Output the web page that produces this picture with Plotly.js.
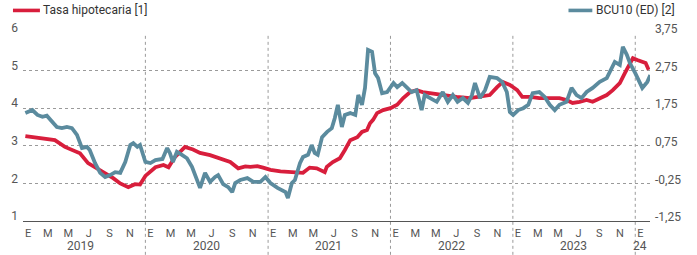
<!DOCTYPE html>
<html><head><meta charset="utf-8">
<script src="https://cdn.plot.ly/plotly-3.0.1.min.js"></script>
<style>html,body{margin:0;padding:0;background:#fff;}#chart{width:697px;height:255px;}</style>
</head><body><div id="chart"></div>
<script>
// Tasa hipotecaria [1] (left axis, %)
const tasaDates = ['2019-01-08','2019-02-05','2019-03-07','2019-04-06','2019-05-06','2019-06-20','2019-07-14','2019-08-10','2019-09-03','2019-09-27','2019-10-18','2019-11-11','2019-12-01','2019-12-16','2020-01-01','2020-01-16','2020-01-31','2020-02-24','2020-03-10','2020-03-29','2020-04-28','2020-05-22','2020-06-12','2020-07-12','2020-08-11','2020-09-10','2020-10-04','2020-10-25','2020-11-09','2020-11-30','2020-12-17','2021-01-08','2021-02-07','2021-03-16','2021-04-15','2021-05-05','2021-05-26','2021-06-19','2021-06-25','2021-07-13','2021-08-03','2021-08-18','2021-09-03','2021-09-24','2021-10-08','2021-10-23','2021-11-01','2021-11-10','2021-11-22','2021-12-10','2022-01-01','2022-01-21','2022-02-08','2022-03-01','2022-03-20','2022-04-07','2022-04-28','2022-06-06','2022-07-17','2022-08-26','2022-09-25','2022-10-24','2022-11-15','2022-12-02','2022-12-23','2023-01-14','2023-01-29','2023-02-22','2023-03-21','2023-04-21','2023-05-20','2023-06-10','2023-06-28','2023-07-19','2023-08-09','2023-08-27','2023-09-17','2023-10-08','2023-10-26','2023-11-16','2023-12-01','2023-12-16','2023-12-25','2024-01-07','2024-01-22','2024-02-01','2024-02-10'];
const tasaValues = [3.26,3.22,3.2,3.15,2.97,2.8,2.54,2.4,2.28,2.14,2.0,1.9,1.98,1.97,2.2,2.3,2.43,2.49,2.43,2.7,2.97,2.9,2.81,2.75,2.67,2.57,2.4,2.45,2.44,2.46,2.42,2.36,2.32,2.3,2.28,2.42,2.4,2.3,2.44,2.57,2.67,2.89,3.15,3.23,3.37,3.42,3.6,3.69,3.87,3.95,4.0,4.09,4.27,4.43,4.48,4.43,4.4,4.35,4.3,4.27,4.3,4.35,4.56,4.7,4.62,4.48,4.3,4.3,4.27,4.27,4.27,4.22,4.14,4.17,4.22,4.17,4.27,4.35,4.48,4.67,4.93,5.2,5.33,5.28,5.23,5.2,5.02];

// BCU10 (ED) [2] (right axis)
const bcuDates = ['2019-01-08','2019-01-29','2019-02-13','2019-02-28','2019-03-13','2019-03-28','2019-04-12','2019-04-27','2019-05-12','2019-05-27','2019-06-11','2019-06-26','2019-07-11','2019-07-19','2019-08-04','2019-08-19','2019-09-03','2019-09-18','2019-10-03','2019-10-18','2019-11-02','2019-11-17','2019-11-26','2019-12-08','2019-12-16','2020-01-01','2020-01-16','2020-01-31','2020-02-21','2020-03-06','2020-03-14','2020-03-23','2020-04-04','2020-04-19','2020-05-04','2020-05-19','2020-06-03','2020-06-12','2020-06-27','2020-07-12','2020-07-27','2020-08-05','2020-08-20','2020-09-04','2020-09-16','2020-09-25','2020-10-10','2020-10-31','2020-11-18','2020-12-09','2020-12-24','2021-01-08','2021-01-29','2021-02-13','2021-02-22','2021-03-01','2021-03-13','2021-03-22','2021-04-06','2021-04-15','2021-04-30','2021-05-11','2021-05-20','2021-05-29','2021-06-11','2021-06-26','2021-07-10','2021-07-19','2021-07-28','2021-08-09','2021-08-18','2021-09-03','2021-09-18','2021-09-27','2021-10-08','2021-10-17','2021-10-26','2021-11-07','2021-11-16','2021-11-25','2021-12-07','2021-12-22','2022-01-10','2022-01-21','2022-02-05','2022-02-20','2022-03-05','2022-03-20','2022-04-04','2022-04-13','2022-04-28','2022-05-19','2022-06-06','2022-06-21','2022-07-06','2022-07-20','2022-08-05','2022-08-20','2022-09-01','2022-09-10','2022-09-25','2022-10-10','2022-10-24','2022-11-15','2022-11-30','2022-12-14','2022-12-23','2023-01-02','2023-01-17','2023-02-01','2023-02-16','2023-03-01','2023-03-21','2023-04-06','2023-04-21','2023-05-06','2023-05-20','2023-06-10','2023-06-25','2023-07-10','2023-07-25','2023-08-09','2023-08-27','2023-09-17','2023-10-08','2023-10-23','2023-11-01','2023-11-16','2023-11-25','2023-12-07','2023-12-16','2024-01-01','2024-01-22','2024-02-06','2024-02-15'];
const bcuValues = [1.62,1.70,1.57,1.52,1.55,1.38,1.25,1.22,1.25,1.22,1.04,0.69,0.72,0.64,0.29,0.03,-0.08,-0.03,0.05,0.03,0.32,0.77,0.82,0.72,0.77,0.32,0.29,0.37,0.40,0.69,0.56,0.32,0.59,0.51,0.42,0.19,-0.16,-0.37,0.03,-0.21,-0.08,-0.03,-0.27,-0.35,-0.48,-0.24,-0.16,-0.11,-0.21,-0.21,-0.08,-0.24,-0.37,-0.43,-0.48,-0.64,-0.24,-0.16,0.29,0.45,0.51,0.77,0.56,0.51,0.98,1.12,1.22,1.49,1.84,1.25,1.57,1.62,1.57,2.10,1.84,2.29,3.30,3.25,2.68,2.55,2.15,2.18,2.42,2.31,2.42,2.29,2.18,2.23,1.70,2.10,2.02,1.92,2.18,1.92,2.10,1.92,2.02,1.89,2.10,2.42,2.02,2.23,2.58,2.55,2.45,2.18,1.65,1.57,1.70,1.75,1.84,2.15,2.18,2.05,1.84,1.70,1.84,1.92,2.29,2.10,2.02,2.18,2.29,2.45,2.55,2.82,2.98,2.90,3.38,3.17,2.95,2.68,2.29,2.45,2.63];

// Axis labels
const leftTicks = [1,2,3,4,5,6];
const rightTicks = [-1.25,-0.25,0.75,1.75,2.75,3.75];
const rightTickText = ['-1,25','-0,25','0,75','1,75','2,75','3,75'];
const monthTickDates = ['2019-01-16','2019-03-16','2019-05-16','2019-07-16','2019-09-16','2019-11-16','2020-01-16','2020-03-16','2020-05-16','2020-07-16','2020-09-16','2020-11-16','2021-01-16','2021-03-16','2021-05-16','2021-07-16','2021-09-16','2021-11-16','2022-01-16','2022-03-16','2022-05-16','2022-07-16','2022-09-16','2022-11-16','2023-01-16','2023-03-16','2023-05-16','2023-07-16','2023-09-16','2023-11-16','2024-01-16'];
const monthTickText = ['E','M','M','J','S','N','E','M','M','J','S','N','E','M','M','J','S','N','E','M','M','J','S','N','E','M','M','J','S','N','E'];
const yearLabels = ['2019','2020','2021','2022','2023','24'];
const yearLabelDates = ['2019-06-20','2020-07-01','2021-07-01','2022-07-01','2023-07-01','2024-01-16'];
const yearBoundaries = ['2020-01-01','2021-01-01','2022-01-01','2023-01-01','2024-01-01'];

const RED = '#d81e3c', BLUE = '#5b8b9e', TXT = '#555555', GRID = '#9a9a9a';
const FONT = 'Roboto, "Open Sans", sans-serif';

const traces = [
  {x: tasaDates, y: tasaValues, type: 'scatter', mode: 'lines', name: 'Tasa hipotecaria [1]',
   line: {color: RED, width: 3.8}, yaxis: 'y'},
  {x: bcuDates, y: bcuValues, type: 'scatter', mode: 'lines', name: 'BCU10 (ED) [2]',
   line: {color: BLUE, width: 3.8}, yaxis: 'y2'}
];

const shapes = yearBoundaries.map(d => ({
  type: 'line', xref: 'x', yref: 'paper', x0: d, x1: d, y0: -0.18, y1: 1,
  line: {color: GRID, width: 1, dash: 'dot'}, layer: 'below'
}));
// legend swatches
shapes.push({type:'line', xref:'paper', yref:'paper', x0:-0.016, x1:0.027, y0:1.12, y1:1.12, line:{color:RED, width:3.6}});
shapes.push({type:'line', xref:'paper', yref:'paper', x0:0.87, x1:0.908, y0:1.12, y1:1.12, line:{color:BLUE, width:3.6}});

const annotations = yearLabels.map((t, i) => ({
  text: t, x: yearLabelDates[i], xref: 'x', y: -0.135, yref: 'paper',
  yanchor: 'middle', xanchor: 'center', showarrow: false, borderpad: 0,
  font: {family: FONT, size: 12, color: TXT}
}));
annotations.push({text:'Tasa hipotecaria [1]', xref:'paper', yref:'paper', x:0.029, y:1.12, xanchor:'left', yanchor:'middle', showarrow:false, font:{family:FONT, size:12, color:'#333'}});
annotations.push({text:'BCU10 (ED) [2]', xref:'paper', yref:'paper', x:0.911, y:1.12, xanchor:'left', yanchor:'middle', showarrow:false, font:{family:FONT, size:12, color:'#333'}});

const layout = {
  width: 697, height: 255,
  margin: {l: 23, r: 47, t: 33, b: 34},
  paper_bgcolor: '#fff', plot_bgcolor: '#fff',
  showlegend: false,
  separators: ',.',
  font: {family: FONT, size: 12, color: TXT},
  xaxis: {
    type: 'date', range: ['2019-01-01', '2024-02-14'],
    tickvals: monthTickDates, ticktext: monthTickText,
    showgrid: false, zeroline: false,
    showline: true, linecolor: '#555', linewidth: 1,
    ticks: '', ticklabelstandoff: 2,
    tickfont: {family: FONT, size: 11, color: TXT}
  },
  yaxis: {
    range: [1, 6], tickvals: leftTicks, ticktext: leftTicks.map(String),
    showgrid: true, gridcolor: GRID, griddash: 'dot', gridwidth: 1,
    zeroline: false, showline: false, ticks: '',
    ticklabelshift: -5, ticklabelstandoff: 4,
    tickfont: {family: FONT, size: 12, color: TXT}
  },
  yaxis2: {
    range: [-1.25, 3.75], overlaying: 'y', side: 'right',
    tickvals: rightTicks, ticktext: rightTickText,
    showgrid: false, zeroline: false, showline: false, ticks: '',
    ticklabelshift: -4, ticklabelstandoff: 4,
    tickfont: {family: FONT, size: 12, color: TXT}
  },
  shapes: shapes,
  annotations: annotations
};

Plotly.newPlot('chart', traces, layout, {displayModeBar: false, staticPlot: true});
</script></body></html>
